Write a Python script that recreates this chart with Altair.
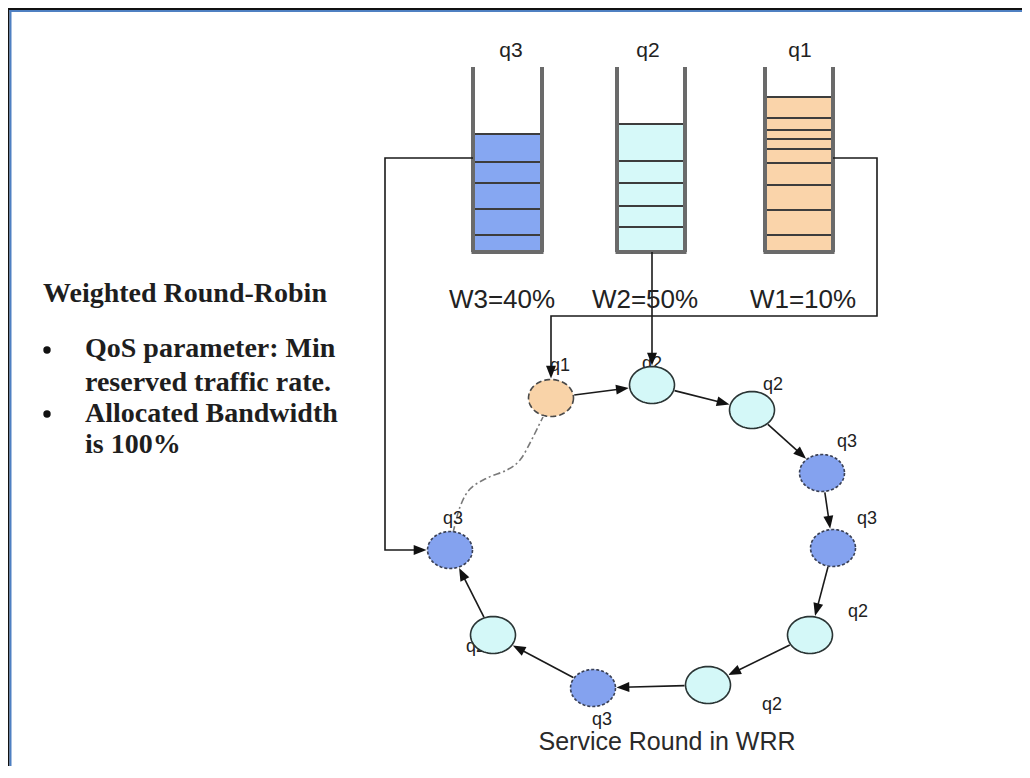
import math
import altair as alt
import pandas as pd

# ---------------- data ----------------
queue_names = ["q3", "q2", "q1"]
queue_weight_names = ["W3", "W2", "W1"]
queue_weight_pct = [40, 50, 10]
queue_left = [473, 617, 765]
queue_right = [542, 685, 833]
queue_wall_top = 67
queue_floor = 252
queue_fill_top = [134, 124, 97]
queue_slot_lines = [
    [162, 183, 209, 235],
    [161, 183, 206, 227],
    [118, 130, 139, 149, 163, 185, 210, 235],
]
queue_label_x = [511, 648, 800]
queue_label_y = 57
weight_label_x = [502, 645, 803]
weight_label_y = 308
queue_fill = {"q3": "#86a7f2", "q2": "#d6f9f9", "q1": "#fad4aa"}
node_fill = {"q3": "#84a2ef", "q2": "#d4f8f8", "q1": "#f9d3a8"}

node_queue = ["q1", "q2", "q2", "q3", "q3", "q2", "q2", "q3", "q2", "q3"]
node_x = [551, 652, 752, 822, 833, 810, 708, 593, 493, 450]
node_y = [398, 385, 410, 473, 548, 635, 685, 688, 635, 550]
node_label_x = [560, 652, 773, 847, 867, 858, 772, 602, 466, 453]
node_label_y = [371, 369, 390, 447, 524, 617, 710, 725, 652, 524]
node_label_align = ["center"] * 8 + ["left", "center"]

# feeder connectors: queue -> waypoints -> target node
feeder_queue = ["q3", "q1", "q2"]
feeder_waypoints = [
    [(473, 158), (385, 158)],
    [(833, 158), (877, 158), (877, 316)],
    [],
]
feeder_target = [9, 0, 1]
feeder_dir = [(1, 0), (0, 1), (0, 1)]

# dash-dot return path from last node back to first
curve_x = [453, 460, 470, 487, 507, 520, 530, 538, 543]
curve_y = [533, 507, 489, 478, 470, 460, 443, 427, 417]

title_text = "Weighted Round-Robin"
bullet_lines = [["QoS parameter: Min", "reserved traffic rate."],
                ["Allocated Bandwidth", "is 100%"]]
bullet_y = [350, 414]
bullet_line_y = [[357, 391], [422, 453]]
caption = "Service Round in WRR"

RX, RY = 22.5, 18.5
HEAD = 8.0  # distance from arrow-head symbol centre to its tip

# ---------------- derived tables ----------------
def boundary(ux, uy):
    return 1.0 / math.sqrt((ux / RX) ** 2 + (uy / RY) ** 2)

def angle_of(ux, uy):
    return (math.degrees(math.atan2(ux, -uy)) + 360) % 360

XMAX = 1022
YMAX = 766

border = pd.DataFrame({
    "x": [8, 9.5, 8, 9.5], "x2": [9.5, 11.5, XMAX, XMAX],
    "y": [8, 10, 8, 10], "y2": [YMAX, YMAX, 10, 12],
    "c": ["#111111", "#4f80c2", "#111111", "#4f80c2"],
})

fills = pd.DataFrame({
    "x": queue_left, "x2": queue_right,
    "y": queue_fill_top, "y2": [queue_floor] * 3,
    "c": [queue_fill[q] for q in queue_names],
})

slots = []
for i, q in enumerate(queue_names):
    for ly in [queue_fill_top[i]] + queue_slot_lines[i]:
        slots.append({"x": queue_left[i], "x2": queue_right[i], "y": ly, "y2": ly})
slots = pd.DataFrame(slots)

walls = []
for i in range(3):
    walls.append({"x": queue_left[i], "x2": queue_left[i], "y": queue_wall_top, "y2": queue_floor})
    walls.append({"x": queue_right[i], "x2": queue_right[i], "y": queue_wall_top, "y2": queue_floor})
    walls.append({"x": queue_left[i] - 1.5, "x2": queue_right[i] + 1.5, "y": queue_floor, "y2": queue_floor})
walls = pd.DataFrame(walls)

conn_rows, head_rows = [], []
for k in range(3):
    t = feeder_target[k]
    ux, uy = feeder_dir[k]
    r = boundary(ux, uy) + 1
    tipx, tipy = node_x[t] - ux * r, node_y[t] - uy * r
    pts = list(feeder_waypoints[k])
    if feeder_queue[k] == "q2":
        pts = [(node_x[t], queue_floor)]
    if uy != 0 and pts:
        pts.append((node_x[t], pts[-1][1]))
    elif ux != 0 and pts:
        pts.append((pts[-1][0], node_y[t]))
    pts.append((tipx - ux * 6, tipy - uy * 6))
    for j, (px, py) in enumerate(pts):
        conn_rows.append({"path": k, "i": j, "x": px, "y": py})
    head_rows.append({"x": tipx - ux * HEAD, "y": tipy - uy * HEAD, "a": angle_of(ux, uy)})

edge_rows = []
for i in range(len(node_x) - 1):
    dx, dy = node_x[i + 1] - node_x[i], node_y[i + 1] - node_y[i]
    L = math.hypot(dx, dy)
    ux, uy = dx / L, dy / L
    r = boundary(ux, uy) + 1
    sx, sy = node_x[i] + ux * r, node_y[i] + uy * r
    tipx, tipy = node_x[i + 1] - ux * r, node_y[i + 1] - uy * r
    edge_rows.append({"x": sx, "y": sy, "x2": tipx - ux * 6, "y2": tipy - uy * 6})
    head_rows.append({"x": tipx - ux * HEAD, "y": tipy - uy * HEAD, "a": angle_of(ux, uy)})

conns = pd.DataFrame(conn_rows)
edges = pd.DataFrame(edge_rows)
heads = pd.DataFrame(head_rows)
curve = pd.DataFrame({"x": curve_x, "y": curve_y, "i": range(len(curve_x))})

nodes = pd.DataFrame({
    "x": node_x, "y": node_y, "q": node_queue,
    "c": [node_fill[q] for q in node_queue],
})
node_labels = pd.DataFrame({
    "x": node_label_x, "y": node_label_y, "t": node_queue, "al": node_label_align,
})

queue_labels = pd.DataFrame({"x": queue_label_x, "y": [queue_label_y] * 3, "t": queue_names})
weight_labels = pd.DataFrame({
    "x": weight_label_x, "y": [weight_label_y] * 3,
    "t": [f"{n}={p}%" for n, p in zip(queue_weight_names, queue_weight_pct)],
})

left_rows = [{"x": 43, "y": 302, "t": title_text}]
for b, lines in enumerate(bullet_lines):
    for ln, ty in zip(lines, bullet_line_y[b]):
        left_rows.append({"x": 85, "y": ty, "t": ln})
left_text = pd.DataFrame(left_rows)
bullets = pd.DataFrame({"x": [47, 47], "y": bullet_y})
cap_df = pd.DataFrame({"x": [667], "y": [750], "t": [caption]})

# ---------------- encodings ----------------
xs = alt.Scale(domain=[8, XMAX], nice=False, zero=False)
ys = alt.Scale(domain=[8, YMAX], nice=False, zero=False, reverse=True)
X = alt.X("x:Q", scale=xs, axis=None)
Y = alt.Y("y:Q", scale=ys, axis=None)
X2 = alt.X2("x2:Q")
Y2 = alt.Y2("y2:Q")
C = alt.Color("c:N", scale=None)

ell = "M1,0" + "".join(
    f"L{math.cos(2*math.pi*k/60):.4f},{(RY/RX)*math.sin(2*math.pi*k/60):.4f}" for k in range(1, 60)
) + "Z"
head_shape = "M0,-1L0.62,0.6L-0.62,0.6Z"

def label_layer(df, align, size):
    return alt.Chart(df).mark_text(font="Liberation Sans", fontSize=size, color="#222222",
                                   baseline="alphabetic", align=align).encode(x=X, y=Y, text="t:N")

def node_layer(q, stroke, dash=None):
    kw = dict(shape=ell, size=(2 * RX) ** 2, filled=False, stroke=stroke, strokeWidth=1.6, opacity=1)
    if dash:
        kw["strokeDash"] = dash
    return alt.Chart(nodes[nodes.q == q]).mark_point(**kw).encode(x=X, y=Y, fill=C)

layers = [
    alt.Chart(border).mark_rect().encode(x=X, x2=X2, y=Y, y2=Y2, color=C),
    alt.Chart(fills).mark_rect().encode(x=X, x2=X2, y=Y, y2=Y2, color=C),
    alt.Chart(slots).mark_rule(color="#3d3d3d", strokeWidth=2.2).encode(x=X, x2=X2, y=Y, y2=Y2),
    alt.Chart(walls).mark_rule(color="#6a6a6a", strokeWidth=4, strokeCap="butt").encode(x=X, x2=X2, y=Y, y2=Y2),
    alt.Chart(conns).mark_line(color="#1a1a1a", strokeWidth=1.6, strokeJoin="miter").encode(
        x=X, y=Y, detail="path:N", order="i:Q"),
    alt.Chart(curve).mark_line(color="#7a7a7a", strokeWidth=1.6, strokeDash=[7, 3, 2, 3],
                               interpolate="cardinal").encode(x=X, y=Y, order="i:Q"),
    label_layer(node_labels[node_labels.al == "center"], "center", 18),
    label_layer(node_labels[node_labels.al == "left"], "left", 18),
    node_layer("q2", "#2b3535"),
    node_layer("q3", "#3a4156", [3, 2]),
    node_layer("q1", "#4a4a4a", [6, 3]),
    alt.Chart(edges).mark_rule(color="#1a1a1a", strokeWidth=1.6).encode(x=X, x2=X2, y=Y, y2=Y2),
    alt.Chart(heads).mark_point(shape=head_shape, size=256, filled=True, color="#111111", opacity=1).encode(
        x=X, y=Y, angle=alt.Angle("a:Q", scale=None)),
    label_layer(queue_labels, "center", 21),
    label_layer(weight_labels, "center", 26),
    alt.Chart(left_text).mark_text(font="Liberation Serif", fontSize=28, fontWeight="bold",
                                   color="#1e1e1e", baseline="alphabetic", align="left").encode(
        x=X, y=Y, text="t:N"),
    alt.Chart(bullets).mark_point(shape="circle", size=55, filled=True, color="#111111", opacity=1).encode(
        x=X, y=Y),
    alt.Chart(cap_df).mark_text(font="Liberation Sans", fontSize=25, color="#2a2a2a",
                                baseline="alphabetic", align="center").encode(x=X, y=Y, text="t:N"),
]

chart = alt.layer(*layers).properties(
    width=XMAX - 8, height=YMAX - 8, autosize=alt.AutoSizeParams(type="none"), padding=0,
    background="#ffffff",
).configure_view(stroke="transparent", strokeWidth=0)

chart.save("out.html", embed_options={"renderer": "svg", "actions": False})
